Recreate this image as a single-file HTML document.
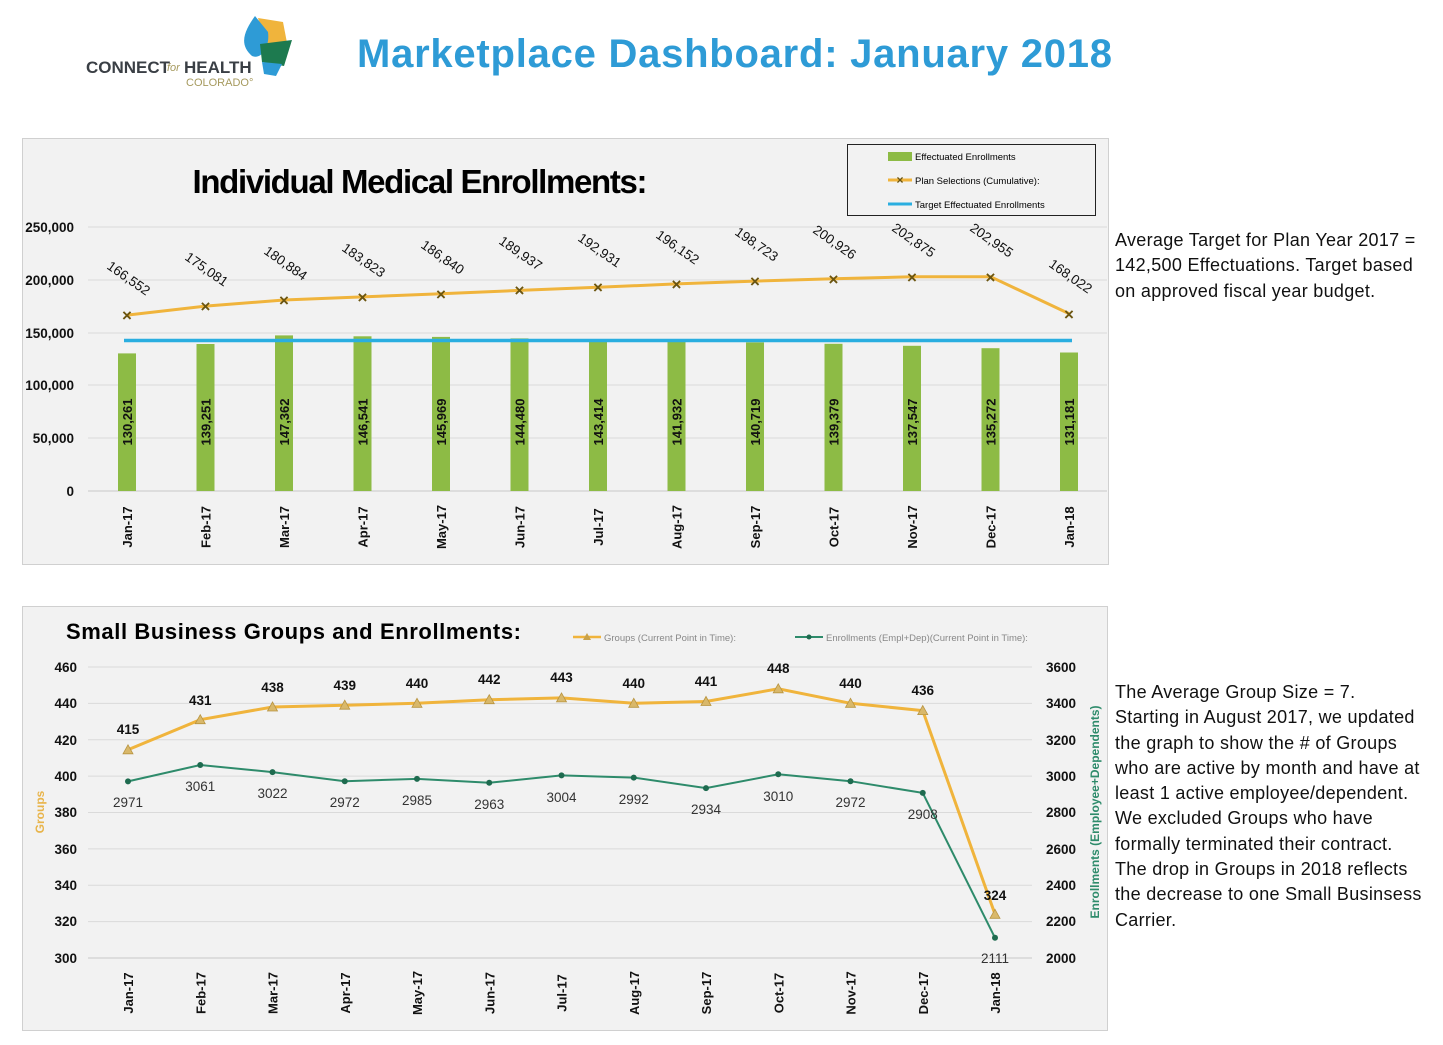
<!DOCTYPE html>
<html><head><meta charset="utf-8"><style>
body{margin:0;width:1443px;height:1045px;background:#fff;overflow:hidden;font-family:"Liberation Sans",sans-serif}
.t{position:absolute;font-size:18px;letter-spacing:0.3px;line-height:25.3px;color:#111;white-space:nowrap}
</style></head><body>
<svg width="1443" height="1045" style="position:absolute;left:0;top:0" font-family="Liberation Sans, sans-serif">
<polygon points="258,18 283,22 288,48 268,52" fill="#f0b43c"/>
<path d="M255,16 C245,30 238,44 252,56 C262,60 270,46 268,32 Z" fill="#2e9bd6"/>
<polygon points="260,44 292,40 284,66 262,62" fill="#1d7a4f"/>
<path d="M262,62 L282,64 L276,76 L264,74 Z" fill="#2e9bd6"/>
<text x="86" y="73" font-size="17" font-weight="bold" fill="#3a3f45">CONNECT</text>
<text x="167" y="71" font-size="11" font-style="italic" fill="#a69a5e">for</text>
<text x="184" y="73" font-size="17" font-weight="bold" fill="#3a3f45">HEALTH</text>
<text x="186" y="86" font-size="11" fill="#a69a5e">COLORADO°</text>
<text x="357" y="67" font-size="40" font-weight="bold" fill="#2e9bd6" textLength="755">Marketplace Dashboard: January 2018</text>

<rect x="22.5" y="138.5" width="1086" height="426" fill="#f2f2f2" stroke="#d0d0d0"/>
<text x="420" y="193" font-size="33" font-weight="bold" text-anchor="middle" fill="#000" textLength="455">Individual Medical Enrollments:</text>
<rect x="847.5" y="144.5" width="248" height="71" fill="#f2f2f2" stroke="#222"/>
<rect x="888" y="152" width="24" height="9" fill="#8dbb45"/>
<text x="915" y="160" font-size="9.5">Effectuated Enrollments</text>
<line x1="888" y1="180" x2="912" y2="180" stroke="#f0b43c" stroke-width="3"/>
<text x="900" y="184" font-size="12" font-weight="bold" text-anchor="middle" fill="#6b5510">×</text>
<text x="915" y="184" font-size="9.5">Plan Selections (Cumulative):</text>
<line x1="888" y1="204" x2="912" y2="204" stroke="#2aaee0" stroke-width="3"/>
<text x="915" y="208" font-size="9.5">Target Effectuated Enrollments</text>
<g stroke="#dadada" stroke-width="1">
<line x1="88" y1="227" x2="1107" y2="227"/><line x1="88" y1="280" x2="1107" y2="280"/><line x1="88" y1="333" x2="1107" y2="333"/><line x1="88" y1="385" x2="1107" y2="385"/><line x1="88" y1="438" x2="1107" y2="438"/><line x1="88" y1="491" x2="1107" y2="491" stroke="#c8c8c8"/>
</g>
<g font-size="13.5" font-weight="bold" text-anchor="end" fill="#111">
<text x="74" y="232">250,000</text><text x="74" y="285">200,000</text><text x="74" y="338">150,000</text><text x="74" y="390">100,000</text><text x="74" y="443">50,000</text><text x="74" y="496">0</text>
</g>
<g fill="#8dbb45">
<rect x="118" y="353.4" width="18" height="137.6"/><rect x="196.5" y="344" width="18" height="147"/><rect x="275" y="335.4" width="18" height="155.6"/><rect x="353.5" y="336.3" width="18" height="154.7"/><rect x="432" y="336.9" width="18" height="154.1"/><rect x="510.5" y="338.4" width="18" height="152.6"/><rect x="589" y="339.6" width="18" height="151.4"/><rect x="667.5" y="341.1" width="18" height="149.9"/><rect x="746" y="342.4" width="18" height="148.6"/><rect x="824.5" y="343.8" width="18" height="147.2"/><rect x="903" y="345.8" width="18" height="145.2"/><rect x="981.5" y="348.2" width="18" height="142.8"/><rect x="1060" y="352.5" width="18" height="138.5"/>
</g>
<line x1="124" y1="340.5" x2="1072" y2="340.5" stroke="#2aaee0" stroke-width="3.5"/>
<polyline fill="none" stroke="#f0b43c" stroke-width="3" points="127,315.1 205.5,306.1 284,300 362.5,296.9 441,293.7 519.5,290.4 598,287.3 676.5,283.9 755,281.1 833.5,278.8 912,276.8 990.5,276.7 1069,313.6"/>
<g font-size="17" font-weight="bold" fill="#6b5510" text-anchor="middle">
<text x="127" y="321">×</text><text x="205.5" y="312">×</text><text x="284" y="306">×</text><text x="362.5" y="303">×</text><text x="441" y="300">×</text><text x="519.5" y="296">×</text><text x="598" y="293">×</text><text x="676.5" y="290">×</text><text x="755" y="287">×</text><text x="833.5" y="285">×</text><text x="912" y="283">×</text><text x="990.5" y="283">×</text><text x="1069" y="320">×</text>
</g>
<g font-size="13.5" fill="#111" text-anchor="middle">
<text transform="translate(126,282) rotate(35)">166,552</text>
<text transform="translate(204,273) rotate(35)">175,081</text>
<text transform="translate(283,267) rotate(35)">180,884</text>
<text transform="translate(361,264) rotate(35)">183,823</text>
<text transform="translate(440,261) rotate(35)">186,840</text>
<text transform="translate(518,257) rotate(35)">189,937</text>
<text transform="translate(597,254) rotate(35)">192,931</text>
<text transform="translate(675,251) rotate(35)">196,152</text>
<text transform="translate(754,248) rotate(35)">198,723</text>
<text transform="translate(832,246) rotate(35)">200,926</text>
<text transform="translate(911,244) rotate(35)">202,875</text>
<text transform="translate(989,244) rotate(35)">202,955</text>
<text transform="translate(1068,280) rotate(35)">168,022</text>
</g>
<g font-size="13" font-weight="bold" fill="#111" text-anchor="middle">
<text transform="translate(132,422) rotate(-90)">130,261</text><text transform="translate(210.5,422) rotate(-90)">139,251</text><text transform="translate(289,422) rotate(-90)">147,362</text><text transform="translate(367.5,422) rotate(-90)">146,541</text><text transform="translate(446,422) rotate(-90)">145,969</text><text transform="translate(524.5,422) rotate(-90)">144,480</text><text transform="translate(603,422) rotate(-90)">143,414</text><text transform="translate(681.5,422) rotate(-90)">141,932</text><text transform="translate(760,422) rotate(-90)">140,719</text><text transform="translate(838.5,422) rotate(-90)">139,379</text><text transform="translate(917,422) rotate(-90)">137,547</text><text transform="translate(995.5,422) rotate(-90)">135,272</text><text transform="translate(1074,422) rotate(-90)">131,181</text>
</g>
<g font-size="13" font-weight="bold" fill="#111" text-anchor="middle">
<text transform="translate(132,527) rotate(-90)">Jan-17</text><text transform="translate(210.5,527) rotate(-90)">Feb-17</text><text transform="translate(289,527) rotate(-90)">Mar-17</text><text transform="translate(367.5,527) rotate(-90)">Apr-17</text><text transform="translate(446,527) rotate(-90)">May-17</text><text transform="translate(524.5,527) rotate(-90)">Jun-17</text><text transform="translate(603,527) rotate(-90)">Jul-17</text><text transform="translate(681.5,527) rotate(-90)">Aug-17</text><text transform="translate(760,527) rotate(-90)">Sep-17</text><text transform="translate(838.5,527) rotate(-90)">Oct-17</text><text transform="translate(917,527) rotate(-90)">Nov-17</text><text transform="translate(995.5,527) rotate(-90)">Dec-17</text><text transform="translate(1074,527) rotate(-90)">Jan-18</text>
</g>

<rect x="22.5" y="606.5" width="1085" height="424" fill="#f2f2f2" stroke="#d0d0d0"/>
<text x="66" y="639" font-size="22" font-weight="bold" fill="#000" textLength="455">Small Business Groups and Enrollments:</text>
<line x1="573" y1="637" x2="601" y2="637" stroke="#f0b43c" stroke-width="2.5"/>
<polygon points="587,633 591,640 583,640" fill="#c9a24a"/>
<text x="604" y="641" font-size="9.5" fill="#888">Groups (Current Point in Time):</text>
<line x1="795" y1="637" x2="823" y2="637" stroke="#2e8b6b" stroke-width="2"/>
<circle cx="809" cy="637" r="2.5" fill="#1e6b4f"/>
<text x="826" y="641" font-size="9.5" fill="#888">Enrollments (Empl+Dep)(Current Point in Time):</text>
<g stroke="#dadada">
<line x1="88" y1="667" x2="1032" y2="667"/><line x1="88" y1="703.4" x2="1032" y2="703.4"/><line x1="88" y1="739.8" x2="1032" y2="739.8"/><line x1="88" y1="776.1" x2="1032" y2="776.1"/><line x1="88" y1="812.5" x2="1032" y2="812.5"/><line x1="88" y1="848.9" x2="1032" y2="848.9"/><line x1="88" y1="885.3" x2="1032" y2="885.3"/><line x1="88" y1="921.6" x2="1032" y2="921.6"/><line x1="88" y1="958" x2="1032" y2="958" stroke="#c8c8c8"/>
</g>
<g font-size="13.5" font-weight="bold" text-anchor="end" fill="#111">
<text x="77" y="672">460</text><text x="77" y="708">440</text><text x="77" y="745">420</text><text x="77" y="781">400</text><text x="77" y="817">380</text><text x="77" y="854">360</text><text x="77" y="890">340</text><text x="77" y="926">320</text><text x="77" y="963">300</text>
</g>
<g font-size="13.5" font-weight="bold" fill="#111">
<text x="1046" y="672">3600</text><text x="1046" y="708">3400</text><text x="1046" y="745">3200</text><text x="1046" y="781">3000</text><text x="1046" y="817">2800</text><text x="1046" y="854">2600</text><text x="1046" y="890">2400</text><text x="1046" y="926">2200</text><text x="1046" y="963">2000</text>
</g>
<text transform="translate(44,812) rotate(-90)" font-size="12" font-weight="bold" fill="#e8b44a" text-anchor="middle">Groups</text>
<text transform="translate(1099,812) rotate(-90)" font-size="12" font-weight="bold" fill="#2e8b6b" text-anchor="middle">Enrollments (Employee+Dependents)</text>
<polyline fill="none" stroke="#f0b43c" stroke-width="3" points="128,749.8 200.25,719.7 272.5,707 344.75,705.2 417,703.3 489.25,699.7 561.5,697.9 633.75,703.3 706,701.5 778.25,688.8 850.5,703.3 922.75,710.6 995,914.3"/>
<g fill="#d9b86a" stroke="#b89440" stroke-width="0.8">
<polygon points="128,744.8 133,753.8 123,753.8"/><polygon points="200.25,714.7 205.25,723.7 195.25,723.7"/><polygon points="272.5,702 277.5,711 267.5,711"/><polygon points="344.75,700.2 349.75,709.2 339.75,709.2"/><polygon points="417,698.3 422,707.3 412,707.3"/><polygon points="489.25,694.7 494.25,703.7 484.25,703.7"/><polygon points="561.5,692.9 566.5,701.9 556.5,701.9"/><polygon points="633.75,698.3 638.75,707.3 628.75,707.3"/><polygon points="706,696.5 711,705.5 701,705.5"/><polygon points="778.25,683.8 783.25,692.8 773.25,692.8"/><polygon points="850.5,698.3 855.5,707.3 845.5,707.3"/><polygon points="922.75,705.6 927.75,714.6 917.75,714.6"/><polygon points="995,909.3 1000,918.3 990,918.3"/>
</g>
<polyline fill="none" stroke="#2e8b6b" stroke-width="2" points="128,781.4 200.25,765 272.5,772.1 344.75,781.2 417,778.9 489.25,782.8 561.5,775.4 633.75,777.6 706,788.1 778.25,774.3 850.5,781.2 922.75,792.9 995,937.8"/>
<g fill="#1e6b4f">
<circle cx="128" cy="781.4" r="3"/><circle cx="200.25" cy="765" r="3"/><circle cx="272.5" cy="772.1" r="3"/><circle cx="344.75" cy="781.2" r="3"/><circle cx="417" cy="778.9" r="3"/><circle cx="489.25" cy="782.8" r="3"/><circle cx="561.5" cy="775.4" r="3"/><circle cx="633.75" cy="777.6" r="3"/><circle cx="706" cy="788.1" r="3"/><circle cx="778.25" cy="774.3" r="3"/><circle cx="850.5" cy="781.2" r="3"/><circle cx="922.75" cy="792.9" r="3"/><circle cx="995" cy="937.8" r="3"/>
</g>
<g font-size="13.5" font-weight="bold" fill="#111" text-anchor="middle">
<text x="128" y="734">415</text><text x="200.25" y="705">431</text><text x="272.5" y="692">438</text><text x="344.75" y="690">439</text><text x="417" y="688">440</text><text x="489.25" y="684">442</text><text x="561.5" y="682">443</text><text x="633.75" y="688">440</text><text x="706" y="686">441</text><text x="778.25" y="673">448</text><text x="850.5" y="688">440</text><text x="922.75" y="695">436</text><text x="995" y="900">324</text>
</g>
<g font-size="13.5" fill="#333" text-anchor="middle">
<text x="128" y="807">2971</text><text x="200.25" y="791">3061</text><text x="272.5" y="798">3022</text><text x="344.75" y="807">2972</text><text x="417" y="805">2985</text><text x="489.25" y="809">2963</text><text x="561.5" y="802">3004</text><text x="633.75" y="804">2992</text><text x="706" y="814">2934</text><text x="778.25" y="801">3010</text><text x="850.5" y="807">2972</text><text x="922.75" y="819">2908</text><text x="995" y="963">2111</text>
</g>
<g font-size="13" font-weight="bold" fill="#111" text-anchor="middle">
<text transform="translate(133,993) rotate(-90)">Jan-17</text><text transform="translate(205.25,993) rotate(-90)">Feb-17</text><text transform="translate(277.5,993) rotate(-90)">Mar-17</text><text transform="translate(349.75,993) rotate(-90)">Apr-17</text><text transform="translate(422,993) rotate(-90)">May-17</text><text transform="translate(494.25,993) rotate(-90)">Jun-17</text><text transform="translate(566.5,993) rotate(-90)">Jul-17</text><text transform="translate(638.75,993) rotate(-90)">Aug-17</text><text transform="translate(711,993) rotate(-90)">Sep-17</text><text transform="translate(783.25,993) rotate(-90)">Oct-17</text><text transform="translate(855.5,993) rotate(-90)">Nov-17</text><text transform="translate(927.75,993) rotate(-90)">Dec-17</text><text transform="translate(1000,993) rotate(-90)">Jan-18</text>
</g>
</svg>
<div class="t" style="left:1115px;top:228px">Average Target for Plan Year 2017 =<br>142,500 Effectuations. Target based<br>on approved fiscal year budget.</div>
<div class="t" style="left:1115px;top:680px">The Average Group Size = 7.<br>Starting in August 2017, we updated<br>the graph to show the # of Groups<br>who are active by month and have at<br>least 1 active employee/dependent.<br>We excluded Groups who have<br>formally terminated their contract.<br>The drop in Groups in 2018 reflects<br>the decrease to one Small Businsess<br>Carrier.</div>
</body></html>
